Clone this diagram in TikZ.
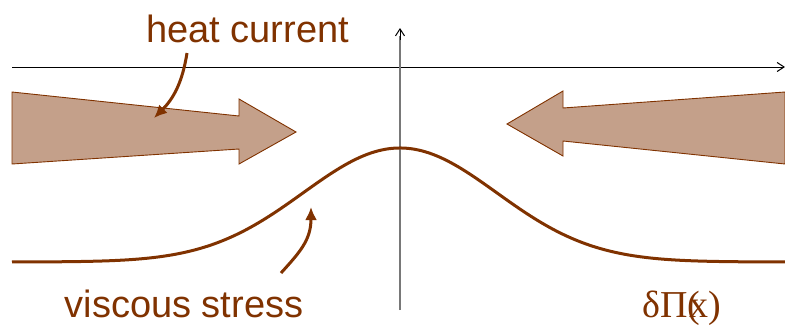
\documentclass[tikz,border=0pt]{standalone}
\usepackage{fontspec}
\newfontfamily\labsans{Liberation Sans}
\newfontfamily\labserif{Liberation Serif}
\usetikzlibrary{arrows.meta}
\definecolor{brn}{RGB}{128,50,0}
\definecolor{brnfill}{RGB}{196,160,138}
\definecolor{axgray}{RGB}{120,120,120}
\tikzset{
  bigarrow/.style={fill=brnfill, draw=brn, line width=0.9pt, line join=miter},
  pointer/.style={draw=brn, line width=3pt, -{Latex[length=13pt,width=12pt]}},
  curveline/.style={draw=brn, line width=3pt},
  lab/.style={text=brn, font=\labsans\fontsize{38}{40}\selectfont, anchor=base, inner sep=0pt},
  axisline/.style={line width=1pt, -{Straight Barb[length=7pt,width=9pt]}}
}
\begin{document}
\begin{tikzpicture}[x=1pt,y=-1pt]
\useasboundingbox (0,0) rectangle (785,325);
% horizontal axis
\coordinate (hxs) at (12,67);
\coordinate (hxe) at (785,67);
\draw[axisline] (hxs) -- (hxe);
% heat current arrows
\draw[bigarrow] (12,92) -- (239,116) -- (239,99) -- (296,132) -- (239,164) -- (239,149) -- (12,164) -- cycle;
\draw[bigarrow] (785,92) -- (563,108) -- (563,91) -- (507,124) -- (563,156) -- (563,141) -- (785,164) -- cycle;
% vertical axis
\coordinate (vys) at (400,310);
\coordinate (vye) at (400,28);
\draw[draw=axgray, line width=2pt] (vys) -- (400,36);
\draw[axisline, draw=black] (400,40) -- (vye);
% viscous stress curve
\draw[curveline, domain=12:785, samples=160, smooth] plot (\x, {262-114*exp(-((\x-400)/137)^2)});
% labels
\node[lab] (heat) at (247.5,42) {heat current};
\node[lab] (visc) at (184,317) {viscous stress};
\node[text=brn, anchor=base, inner sep=0pt, font=\labserif\fontsize{38}{40}\selectfont] (dpi) at (682,317) {δΠ(\kern-0.28em x)};
% pointers
\coordinate (hcs) at (187,53);
\coordinate (hct) at (154,118);
\draw[pointer] (hcs) .. controls (182,85) and (172,100) .. (hct);
\coordinate (vss) at (281,273);
\coordinate (vst) at (311,207);
\draw[pointer] (vss) .. controls (300,252) and (311,240) .. (vst);
\end{tikzpicture}
\end{document}
